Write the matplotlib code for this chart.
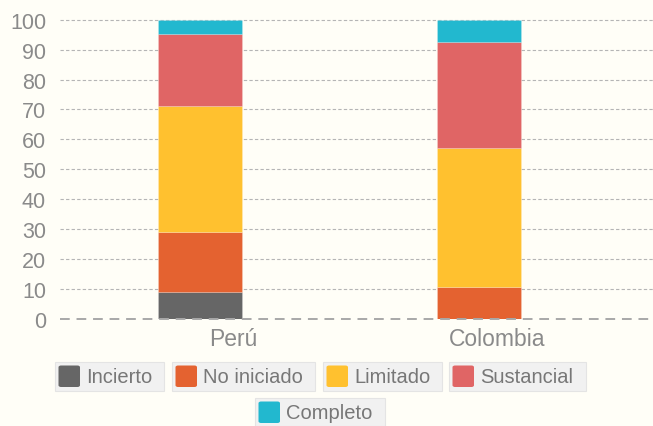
import numpy as np
import matplotlib.pyplot as plt
from matplotlib.patches import Rectangle, FancyBboxPatch

paises = ['Perú', 'Colombia']
categorias = ['Incierto', 'No iniciado', 'Limitado', 'Sustancial', 'Completo']
incierto = [9, 0]
no_iniciado = [20, 10.8]
limitado = [42, 46.3]
sustancial = [24.3, 35.3]
completo = [4.7, 7.6]
colores = ['#666666', '#E46230', '#FFC12F', '#E06565', '#22B8CF']

plt.rcParams['font.family'] = ['Liberation Sans', 'DejaVu Sans']
bg = '#FFFEF7'

fig = plt.figure(figsize=(6.53, 4.27), dpi=100, facecolor=bg)
ax = fig.add_axes([60 / 653, 107 / 427, 593 / 653, 299.3 / 427], facecolor=bg)

x = np.arange(len(paises))
series = [incierto, no_iniciado, limitado, sustancial, completo]
bottom = np.zeros(len(paises))
for vals, col in zip(series, colores):
    ax.bar(x, vals, 0.3, bottom=bottom, color=col, edgecolor=(1, 1, 1, 0.25), linewidth=0.5, zorder=3)
    bottom += np.array(vals)

ax.set_xlim(-0.5, 1.623)
ax.set_ylim(0, 100)
ax.set_yticks(range(0, 101, 10))
# las etiquetas de categoría están algo desplazadas a la derecha en el original
ax.set_xticks(x + np.array([0.12, 0.065]))
ax.set_xticklabels(paises)
ax.tick_params(axis='both', length=0, colors='#8a8a8a')
ax.tick_params(axis='y', pad=10, labelsize=15.5)
ax.tick_params(axis='x', pad=6, labelsize=16.5)
for s in ax.spines.values():
    s.set_visible(False)

for v in range(10, 101, 10):
    ax.axhline(v, color='#b5b5b5', lw=0.8, dashes=(3, 2), zorder=1, clip_on=False)
ax.axhline(0, color='#a8a8a8', lw=1.4, dashes=(5, 3.5), zorder=4, clip_on=False)

# leyenda: una caja por elemento
cajas = [(55, 363, 109), (172, 363, 143), (323, 363, 119), (449, 363, 137), (255, 399, 130)]
W, H = 653, 427
for (bx, by, bw), nombre, col in zip(cajas, categorias, colores):
    bh = 28.5
    fig.patches.append(Rectangle((bx / W, 1 - (by + bh) / H), bw / W, bh / H,
                                 transform=fig.transFigure, facecolor='#f1f1f1',
                                 edgecolor='#e4e4e4', lw=0.8))
    fig.patches.append(FancyBboxPatch(((bx + 3.5) / W, 1 - (by + 25) / H), 21.5 / W, 21.5 / H,
                                      boxstyle='round,pad=0,rounding_size=0.004',
                                      transform=fig.transFigure, facecolor=col, edgecolor='none'))
    fig.text((bx + 31) / W, 1 - (by + bh / 2) / H, nombre, fontsize=14.5, color='#777777',
             va='center', ha='left')

fig.savefig('out.png', dpi=100, facecolor=bg)
